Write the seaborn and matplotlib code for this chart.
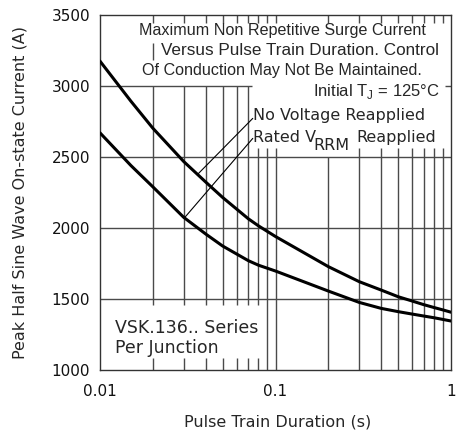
import numpy as np
import pandas as pd
import matplotlib
matplotlib.use("Agg")
import matplotlib.pyplot as plt
import seaborn as sns

duracao = [0.01, 0.015, 0.02, 0.03, 0.04, 0.05, 0.07, 0.08, 0.1, 0.2, 0.3, 0.4, 0.5, 0.6, 0.7, 0.8, 0.9, 1.0]
sem_tensao = [3175, 2893, 2703, 2468, 2324, 2215, 2065, 2015, 1940, 1728, 1622, 1563, 1516, 1486, 1460, 1440, 1423, 1407]
com_vrrm = [2670, 2440, 2290, 2075, 1958, 1873, 1770, 1738, 1697, 1556, 1476, 1434, 1411, 1394, 1380, 1368, 1356, 1345]

y_ticks = [1000, 1500, 2000, 2500, 3000, 3500]
x_ticks = [0.01, 0.1, 1]
x_tick_labels = ['0.01', '0.1', '1']

df = pd.DataFrame({'t': duracao, 'nv': sem_tensao, 'rv': com_vrrm})

sns.set_style("white")
plt.rcParams['font.family'] = ['DejaVu Sans']

fig = plt.figure(figsize=(4.69, 4.34), dpi=100)
ax = fig.add_axes([100/469, 1 - 370/434, 351/469, 355/434])

# grade com falhas onde ficam as caixas de texto
cor_grade = '#4a4a4a'
for x in [0.02, 0.03, 0.04, 0.05, 0.06, 0.07, 0.08, 0.09, 0.1,
          0.2, 0.3, 0.4, 0.5, 0.6, 0.7, 0.8, 0.9]:
    segs = [(3445, 3500)]
    if x <= 0.07:
        segs += [(1458, 3000), (1000, 1085)]
    elif x == 0.08:
        segs += [(1458, 2563), (1000, 1085)]
    elif x == 0.2:
        segs += [(1000, 2500)]
    else:
        segs += [(1000, 2563)]
    if x == 0.02:
        segs += [(3183, 3303)]
    for y0, y1 in segs:
        ax.vlines(x, y0, y1, color=cor_grade, lw=1.0, zorder=1)

ax.hlines(3000, 0.01, 0.0734, color=cor_grade, lw=1.0, zorder=1)
ax.hlines(3000, 0.925, 1.0, color=cor_grade, lw=1.0, zorder=1)
for y in [1500, 2000, 2500]:
    ax.hlines(y, 0.01, 1.0, color=cor_grade, lw=1.0, zorder=1)

sns.lineplot(data=df, x='t', y='nv', ax=ax, color='black', lw=2.2, zorder=3)
sns.lineplot(data=df, x='t', y='rv', ax=ax, color='black', lw=2.2, zorder=3)

# linhas de chamada
ax.plot([0.0742, 0.0358], [2772, 2375], color='black', lw=0.8, zorder=2)
ax.plot([0.0742, 0.0301], [2631, 2068], color='black', lw=0.8, zorder=2)

ax.set_xscale('log')
ax.set_xlim(0.01, 1)
ax.set_ylim(1000, 3500)
ax.set_xticks(x_ticks)
ax.set_xticklabels(x_tick_labels)
ax.set_yticks(y_ticks)
ax.minorticks_off()
ax.set_xlabel('')
ax.set_ylabel('')
ax.tick_params(length=0, labelsize=11, colors='#111111')
ax.tick_params(axis='y', pad=7)
ax.tick_params(axis='x', pad=10)
for s in ax.spines.values():
    s.set_color('#333333')
    s.set_linewidth(1.0)

tr = ax.transAxes
arial = ['Liberation Sans', 'DejaVu Sans']
ax.text(0.5185, 0.955, 'Maximum Non Repetitive Surge Current', transform=tr, ha='center', va='center',
        fontsize=11.6, family=arial)
ax.text(0.570, 0.899, 'Versus Pulse Train Duration. Control', transform=tr, ha='center', va='center',
        fontsize=12.3, family=arial)
ax.text(0.517, 0.845, 'Of Conduction May Not Be Maintained.', transform=tr, ha='center', va='center',
        fontsize=11.6, family=arial)
ax.text(0.969, 0.771, r'Initial T$_\mathregular{J}$ = 125°C', transform=tr, ha='right', va='baseline',
        fontsize=12, family=arial)
ax.text(0.436, 0.704, 'No Voltage Reapplied', transform=tr, ha='left', va='baseline', fontsize=11.5)
ax.text(0.436, 0.643, 'Rated V', transform=tr, ha='left', va='baseline', fontsize=11.5)
ax.text(0.608, 0.620, 'RRM', transform=tr, ha='left', va='baseline', fontsize=11.5)
ax.text(0.729, 0.643, 'Reapplied', transform=tr, ha='left', va='baseline', fontsize=11.5)
ax.text(0.043, 0.103, 'VSK.136.. Series', transform=tr, ha='left', va='baseline', fontsize=12.5)
ax.text(0.043, 0.047, 'Per Junction', transform=tr, ha='left', va='baseline', fontsize=12.5)

fig.text(20/469, 1 - 192.5/434, 'Peak Half Sine Wave On-state Current (A)', rotation=90,
         ha='center', va='center', fontsize=11.5)
fig.text(278/469, 1 - 421.7/434, 'Pulse Train Duration (s)', ha='center', va='center', fontsize=11.5)

fig.savefig('out.png', dpi=100)
